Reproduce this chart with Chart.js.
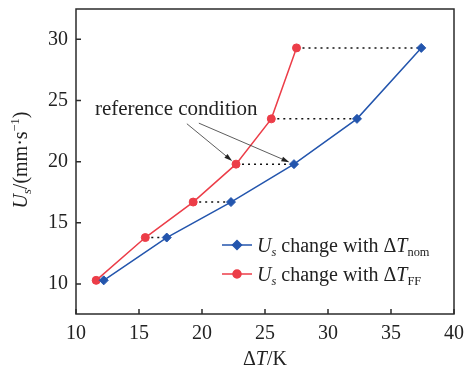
<!DOCTYPE html>
<html>
<head>
<meta charset="utf-8">
<script src="https://cdn.jsdelivr.net/npm/chart.js@4/dist/chart.umd.min.js"></script>
<style>
html,body{margin:0;padding:0;background:#fff;}
canvas{display:block;}
</style>
</head>
<body>
<canvas id="c" width="465" height="376"></canvas>
<script>
// ---- data ----
const usValues = [10.3, 13.8, 16.7, 19.8, 23.5, 29.3];      // U_s (mm/s)
const dTnom    = [12.2, 17.2, 22.3, 27.3, 32.3, 37.4];      // ΔT_nom (K)
const dTff     = [11.6, 15.5, 19.3, 22.7, 25.5, 27.5];      // ΔT_FF (K)
const xTicks = [10, 15, 20, 25, 30, 35, 40];
const yTicks = [10, 15, 20, 25, 30];
const refIndex = 3; // reference condition point
const refText = 'reference condition';

const BLUE = '#2355ad';
const RED = '#ec3d48';
const INK = '#222';
const FONT = '"Liberation Serif","Times New Roman",serif';

const nomPts = usValues.map((y, i) => ({x: dTnom[i], y}));
const ffPts = usValues.map((y, i) => ({x: dTff[i], y}));

const dotted = [];
for (let i = 1; i < usValues.length; i++) {
  dotted.push({
    type: 'scatter', showLine: true, data: [{x: dTff[i], y: usValues[i]}, {x: dTnom[i], y: usValues[i]}],
    borderColor: '#111', borderWidth: 1.5, borderDash: [2, 4], pointRadius: 0, order: 5
  });
}

function richText(ctx, segs, x, y, size, align) {
  const parts = segs.map(s => {
    const sz = (s.sub || s.sup) ? size * 0.62 : size;
    const f = (s.it ? 'italic ' : '') + sz + 'px ' + FONT;
    ctx.font = f;
    return {s, f, w: ctx.measureText(s.t).width, dy: s.sub ? size * 0.22 : (s.sup ? -size * 0.38 : 0)};
  });
  const total = parts.reduce((a, p) => a + p.w, 0);
  let cx = align === 'center' ? x - total / 2 : x;
  ctx.textBaseline = 'alphabetic';
  ctx.textAlign = 'left';
  for (const p of parts) {
    ctx.font = p.f;
    ctx.fillText(p.s.t, cx, y + p.dy);
    cx += p.w;
  }
}

const deco = {
  id: 'deco',
  afterDraw(chart) {
    const {ctx, chartArea: a, scales} = chart;
    const xs = scales.x, ys = scales.y;
    ctx.save();
    ctx.strokeStyle = '#2b2b2b';
    ctx.lineWidth = 1.5;
    ctx.strokeRect(a.left, a.top, a.right - a.left, a.bottom - a.top);
    ctx.beginPath();
    xTicks.forEach(v => { const px = xs.getPixelForValue(v); ctx.moveTo(px, a.bottom); ctx.lineTo(px, a.bottom - 5); });
    yTicks.forEach(v => { const py = ys.getPixelForValue(v); ctx.moveTo(a.left, py); ctx.lineTo(a.left + 5, py); });
    ctx.stroke();

    ctx.fillStyle = INK;
    richText(ctx, [{t: 'Δ'}, {t: 'T', it: true}, {t: '/K'}], (a.left + a.right) / 2, 365, 20, 'center');
    ctx.save();
    ctx.translate(27, 160);
    ctx.rotate(-Math.PI / 2);
    richText(ctx, [{t: 'U', it: true}, {t: 's', it: true, sub: true}, {t: '/(mm·s'}, {t: '−1', sup: true}, {t: ')'}], 0, 0, 20, 'center');
    ctx.restore();

    const legend = [
      {color: BLUE, style: 'rectRot', r: 4.5, sub: 'nom', y: 245},
      {color: RED, style: 'circle', r: 4, sub: 'FF', y: 274}
    ];
    legend.forEach(l => {
      ctx.strokeStyle = l.color; ctx.fillStyle = l.color; ctx.lineWidth = 1.5;
      ctx.beginPath(); ctx.moveTo(222, l.y); ctx.lineTo(252, l.y); ctx.stroke();
      Chart.helpers.drawPoint(ctx, {pointStyle: l.style, radius: l.r, borderWidth: 1}, 237, l.y);
      ctx.fillStyle = INK;
      richText(ctx, [{t: 'U', it: true}, {t: 's', it: true, sub: true}, {t: ' change with Δ'}, {t: 'T', it: true}, {t: l.sub, sub: true}], 257, l.y + 7, 20, 'left');
    });

    ctx.fillStyle = INK;
    ctx.font = '21px ' + FONT;
    ctx.textAlign = 'left'; ctx.textBaseline = 'alphabetic';
    const tx = xs.getPixelForValue(11.5), ty = ys.getPixelForValue(23.8);
    ctx.fillText(refText, tx, ty);
    const arrows = [
      {sx: 18.8, sy: 23.1, ex: dTff[refIndex], ey: usValues[refIndex]},
      {sx: 19.75, sy: 23.15, ex: dTnom[refIndex], ey: usValues[refIndex]}
    ];
    ctx.strokeStyle = '#333'; ctx.fillStyle = '#222'; ctx.lineWidth = 0.8;
    arrows.forEach(ar => {
      const x0 = xs.getPixelForValue(ar.sx), y0 = ys.getPixelForValue(ar.sy);
      let x1 = xs.getPixelForValue(ar.ex), y1 = ys.getPixelForValue(ar.ey);
      const dx = x1 - x0, dy = y1 - y0, L = Math.hypot(dx, dy);
      const ux = dx / L, uy = dy / L;
      x1 -= ux * 5; y1 -= uy * 5;
      const hl = 8, hw = 2.5;
      ctx.beginPath(); ctx.moveTo(x0, y0); ctx.lineTo(x1 - ux * hl, y1 - uy * hl); ctx.stroke();
      ctx.beginPath();
      ctx.moveTo(x1, y1);
      ctx.lineTo(x1 - ux * hl - uy * hw, y1 - uy * hl + ux * hw);
      ctx.lineTo(x1 - ux * hl + uy * hw, y1 - uy * hl - ux * hw);
      ctx.closePath(); ctx.fill();
    });
    ctx.restore();
  }
};

new Chart(document.getElementById('c'), {
  type: 'scatter',
  data: {
    datasets: [
      ...dotted,
      {label: 'Us change with ΔTnom', data: nomPts, showLine: true, borderColor: BLUE, backgroundColor: BLUE,
       borderWidth: 1.5, pointStyle: 'rectRot', pointRadius: 4.5, pointBorderWidth: 1, order: 1},
      {label: 'Us change with ΔTFF', data: ffPts, showLine: true, borderColor: RED, backgroundColor: RED,
       borderWidth: 1.5, pointStyle: 'circle', pointRadius: 4, pointBorderWidth: 1, order: 1}
    ]
  },
  options: {
    responsive: false,
    animation: false,
    layout: {padding: {left: 0, top: 9, right: 11, bottom: 0}},
    plugins: {legend: {display: false}, tooltip: {enabled: false}},
    scales: {
      x: {
        type: 'linear', min: 10, max: 40,
        afterBuildTicks: s => { s.ticks = xTicks.map(v => ({value: v})); },
        afterFit: s => { s.height = 62; s.paddingLeft = 0; s.paddingRight = 0; },
        grid: {display: false, drawTicks: false},
        border: {display: false},
        ticks: {color: INK, font: {family: FONT, size: 20}, padding: 8, maxRotation: 0, autoSkip: false}
      },
      y: {
        type: 'linear', min: 7.55, max: 32.48,
        afterBuildTicks: s => { s.ticks = yTicks.map(v => ({value: v})); },
        afterFit: s => { s.width = 76; s.paddingTop = 0; s.paddingBottom = 0; },
        grid: {display: false, drawTicks: false},
        border: {display: false},
        ticks: {color: INK, font: {family: FONT, size: 20}, padding: 8, autoSkip: false}
      }
    }
  },
  plugins: [deco]
});
</script>
</body>
</html>
